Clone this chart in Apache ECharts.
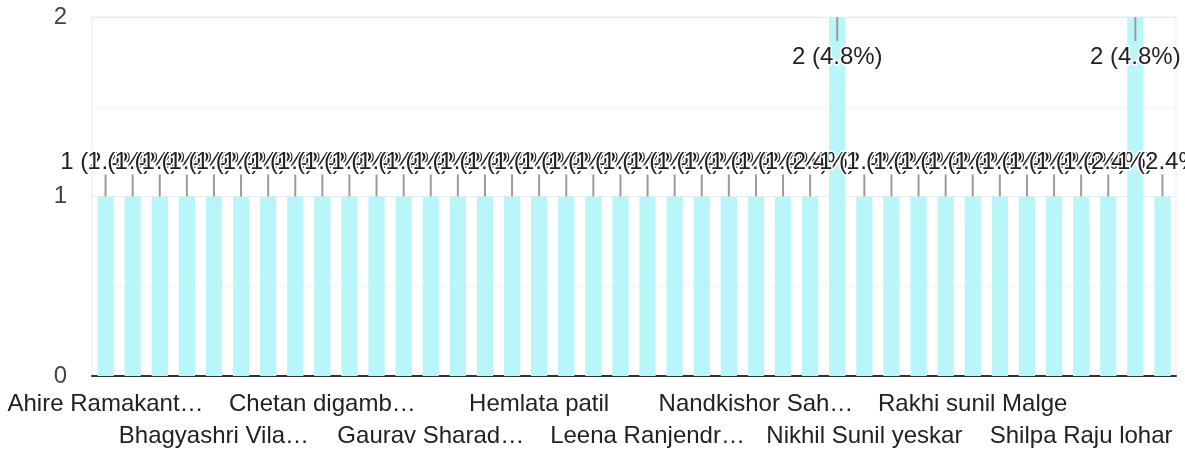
<!DOCTYPE html>
<html>
<head>
<meta charset="utf-8">
<script src="https://cdn.jsdelivr.net/npm/echarts@6/dist/echarts.min.js"></script>
<style>
html,body{margin:0;padding:0;background:#fff;}
#chart{width:1185px;height:451px;}
</style>
</head>
<body>
<div id="chart"></div>
<script>
const categories = [
  "Ahire Ramakant…", "Amol Patil", "Ashwini More", "Bhagwan Shinde",
  "Bhagyashri Vila…", "Bharati Pawar", "Chandrakant Jadhav", "Chetan Bhosale",
  "Chetan digamb…", "Deepak Sonawane", "Dipali Gaikwad", "Ganesh Wagh",
  "Gaurav Sharad…", "Gita Deshmukh", "Hemant Kale", "Hemlata Bagul",
  "Hemlata patil", "Jayshree Nikam", "Kavita Thorat", "Kiran Salunke",
  "Leena Ranjendr…", "Mahesh Kulkarni", "Manisha Chavan", "Nalini Borse",
  "Nandkishor Sah…", "Neha Mali", "Nikhil Patil", "Nikhil Sonar",
  "Nikhil Sunil yeskar", "Pooja Ahirrao", "Prashant Deore", "Rahul Kadam",
  "Rakhi sunil Malge", "Rupali Bachhav", "Sandip Jagtap", "Sharad Mahajan",
  "Shilpa Raju lohar", "Sunita Gavit", "Vaishali Khairnar", "Yogesh Sapkal"
];
const counts = [
  1, 1, 1, 1, 1, 1, 1, 1,
  1, 1, 1, 1, 1, 1, 1, 1,
  1, 1, 1, 1, 1, 1, 1, 1,
  1, 1, 1, 2, 1, 1, 1, 1,
  1, 1, 1, 1, 1, 1, 2, 1
];
const yTicks = [0, 1, 2];
const totalResponses = 42;

const FONT = 'Arial, "Liberation Sans", sans-serif';
const yMax = yTicks[yTicks.length - 1];

function labelAxis(show, rowIndexFn, margin) {
  return {
    type: 'category',
    data: categories,
    position: 'bottom',
    axisLine: show ? {lineStyle: {color: '#333', width: 2}} : {show: false},
    axisTick: {show: false},
    axisLabel: {
      interval: rowIndexFn,
      hideOverlap: false,
      margin: margin,
      color: '#222',
      fontFamily: FONT,
      fontSize: 24,
      verticalAlign: 'top'
    },
    splitLine: {show: false}
  };
}

const chart = echarts.init(document.getElementById('chart'), null, {renderer: 'canvas'});
chart.setOption({
  animation: false,
  grid: {
    left: 92, right: 9, top: 17, bottom: 75,
    show: true, borderColor: '#ececec', borderWidth: 1,
    containLabel: false, outerBoundsMode: 'none'
  },
  xAxis: [
    labelAxis(true, function (index) { return index % 8 === 0; }, 16),
    labelAxis(false, function (index) { return index % 8 === 4; }, 48)
  ],
  yAxis: {
    type: 'value',
    min: 0, max: yMax, interval: 1,
    axisLine: {show: false},
    axisTick: {show: false},
    axisLabel: {color: '#444', fontFamily: FONT, fontSize: 24, margin: 25, padding: [4, 0, 0, 0]},
    splitLine: {lineStyle: {color: '#ececec', width: 1}},
    minorTick: {show: false, splitNumber: 2},
    minorSplitLine: {show: true, lineStyle: {color: '#f4f4f4', width: 1}}
  },
  series: [
    {
      type: 'bar',
      data: counts,
      barWidth: '60%',
      itemStyle: {color: '#b9f6f9'},
      z: 2
    },
    {
      type: 'custom',
      z: 5,
      clip: false,
      data: counts.map((v, i) => [i, v]),
      encode: {x: 0, y: 1},
      renderItem: function (params, api) {
        const i = api.value(0);
        const v = api.value(1);
        const p = api.coord([i, v]);
        const pct = (v / totalResponses * 100).toFixed(1);
        const txt = v + ' (' + pct + '%)';
        const inside = v >= yMax;
        const stemEnd = inside ? p[1] + 24 : p[1] - 22;
        const textY = inside ? p[1] + 40 : p[1] - 34;
        return {
          type: 'group',
          children: [
            {
              type: 'line',
              shape: {x1: p[0], y1: p[1], x2: p[0], y2: stemEnd},
              style: {stroke: '#9a9a9a', lineWidth: 2}
            },
            {
              type: 'text',
              x: p[0], y: textY,
              style: {
                text: txt,
                fill: '#222',
                font: '24px ' + FONT,
                align: 'center',
                verticalAlign: 'middle',
                stroke: '#fff',
                lineWidth: 3
              }
            }
          ]
        };
      }
    }
  ]
});
</script>
</body>
</html>
